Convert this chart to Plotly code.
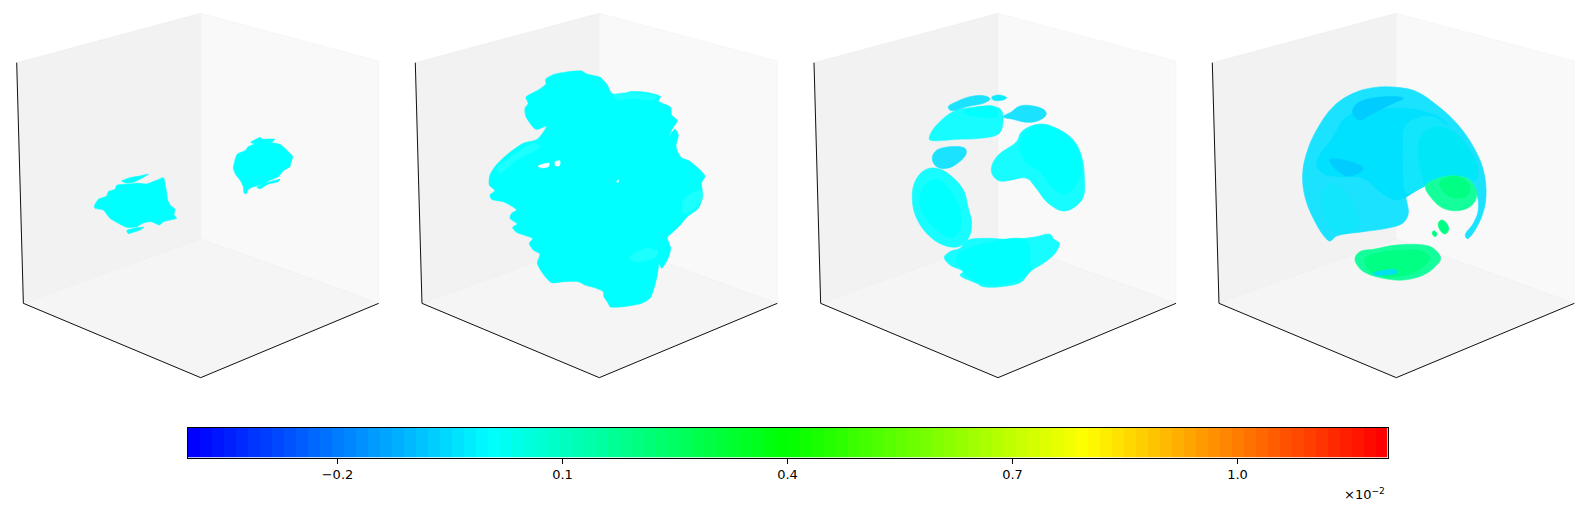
import numpy as np
import plotly.graph_objects as go

# Panel geometry readings (crop units: 3 per pixel; x relative to each cube's centre)
panel_centres_px = [200.7, 599.3, 998.0, 1396.3]
crop_centres = [602, 598, 594, 619]
half_w = 570
crop_h = 1170

left_wall = [(-552, 188), (0, 40), (0, 717), (-532, 910)]
right_wall = [(0, 40), (534, 183), (534, 910), (0, 717)]
floor = [(-532, 910), (0, 717), (534, 910), (0, 1133)]
z_axis = [(-552, 188), (-532, 910)]
base_axes = [(-532, 910), (0, 1133), (534, 910)]

C = "#00ffff"; C1 = "#16fcff"; C2 = "#1cffff"; S1 = "#1ae2ff"; S2 = "#00e0ff"; S3 = "#00ccff"
T1 = "#00e8f8"; T2 = "#12e6fc"; G1 = "#14ff9c"; G2 = "#00ff82"

p1 = [
 (C, [(283,618),(295,598),(320,588),(325,575),(345,568),(350,556),(385,552),(415,550),(440,552),(470,541),(490,533),(497,560),(503,600),(510,615),(525,628),(522,645),(530,655),(510,660),(490,665),(478,675),(455,665),(430,668),(410,680),(380,682),(355,670),(330,655),(310,630),(285,625)]),
 (C, [(365,543),(390,533),(420,528),(445,522),(430,532),(405,545),(380,549)]),
 (C, [(380,692),(405,684),(432,682),(420,690),(395,698),(385,701)]),
 (C, [(700,505),(705,480),(712,462),(735,452),(745,440),(765,432),(790,428),(815,428),(840,433),(860,450),(878,470),(872,490),(870,500),(850,512),(835,530),(810,540),(790,552),(760,560),(745,568),(738,582),(732,578),(730,560),(720,540),(708,525)]),
 (C, [(752,427),(768,418),(780,412),(785,417),(825,418),(815,426),(785,430),(765,432)]),
 (C, [(770,562),(800,548),(840,538),(835,545),(805,552),(780,566)]),
]
p2 = [
 (C, [(437,238),(460,224),(500,216),(545,213),(560,222),(600,232),(622,255),(635,280),(660,285),(690,275),(745,278),(782,290),(775,303),(795,313),(812,322),(815,345),(832,362),(818,385),(808,408),(825,388),(835,405),(828,440),(843,472),(868,483),(895,505),(915,528),(905,548),(908,590),(895,625),(862,650),(838,678),(815,700),(802,712),(812,745),(803,778),(785,805),(778,790),(772,825),(762,865),(750,895),(725,910),(670,920),(630,920),(625,910),(612,890),(610,875),(580,862),(555,855),(535,845),(490,845),(455,848),(432,825),(412,790),(420,762),(400,750),(388,730),(398,716),(350,697),(338,682),(352,672),(330,655),(335,640),(350,630),(312,606),(275,598),(270,585),(285,572),(268,555),(270,525),(285,500),(320,465),(370,430),(412,418),(440,378),(408,388),(378,350),(375,325),(385,310),(378,292),(415,270),(438,252)]),
 (C2, [(640,285),(700,278),(770,290),(760,300),(700,295),(650,300)]),
 (C2, [(290,505),(340,465),(400,430),(420,440),(350,480),(300,520)]),
 (C2, [(690,770),(740,745),(775,755),(760,775),(700,785)]),
 (C2, [(850,600),(900,570),(905,600),(880,630),(850,640)]),
 ("#ffffff", [(415,498),(430,492),(448,490),(445,500),(420,503)]),
 ("#ffffff", [(466,485),(480,483),(478,497),(466,497)]),
 ("#ffffff", [(650,545),(656,540),(654,548)]),
]
p3 = [
 (S1, [(445,320),(470,305),(510,290),(555,288),(570,297),(550,310),(500,320),(465,332),(450,330)]),
 ("#10ecff", [(575,292),(595,285),(620,293),(605,301),(580,300)]),
 (S1, [(610,350),(635,335),(660,318),(700,318),(735,332),(738,345),(715,362),(680,367),(640,358)]),
 (C1, [(388,418),(395,395),(425,360),(460,335),(520,322),(585,320),(605,332),(607,380),(595,402),(540,415),(470,418),(400,422)]),
 (C, [(490,335),(530,322),(585,322),(590,350),(540,350),(505,345)]),
 (S1, [(397,478),(405,455),(430,443),(495,445),(498,462),(475,488),(440,505),(410,500)]),
 (C1, [(337,600),(345,545),(375,510),(410,505),(450,525),(490,570),(505,625),(515,670),(505,715),(475,740),(430,735),(385,705),(350,655)]),
 (C, [(360,590),(380,550),(415,540),(450,570),(480,630),(478,690),(455,712),(400,680),(370,640)]),
 (C1, [(575,500),(595,465),(650,425),(665,395),(720,372),(770,385),(820,420),(845,470),(853,530),(850,590),(825,620),(790,633),(745,610),(705,560),(680,535),(600,543),(578,525)]),
 (C, [(660,425),(690,385),(720,375),(770,388),(815,420),(840,470),(840,530),(800,580),(760,565),(715,510),(680,490),(660,450)]),
 (C1, [(433,772),(450,755),(480,745),(500,722),(560,715),(620,718),(700,712),(750,703),(762,718),(778,730),(765,760),(730,790),(690,815),(665,845),(620,858),(550,860),(530,850),(480,825),(490,815),(450,795)]),
 (C, [(470,770),(560,730),(680,722),(690,780),(690,815),(620,850),(550,850),(490,815)]),
]
p4 = [
 (S1, [(338,525),(350,460),(380,390),(430,320),(490,280),(550,263),(620,262),(680,275),(740,315),(800,370),(850,440),(880,510),(888,590),(875,650),(845,705),(832,716),(826,705),(850,670),(865,630),(858,575),(830,540),(790,530),(740,540),(690,565),(650,585),(648,590),(655,640),(640,668),(590,685),(520,695),(440,708),(420,723),(405,712),(370,655),(345,590)]),
 (S2, [(380,490),(430,410),(470,350),(560,330),(650,325),(720,340),(760,360),(790,400),(860,490),(855,540),(830,530),(780,528),(700,560),(640,595),(620,600),(570,575),(530,540),(500,530),(450,530),(400,520)]),
 (T2, [(393,600),(405,565),(430,553),(465,575),(490,610),(505,650),(495,688),(440,698),(405,650)]),
 (T2, [(640,450),(645,380),(680,355),(730,350),(790,395),(850,480),(862,530),(830,530),(780,528),(700,560),(650,580),(640,520)]),
 (T1, [(685,450),(695,405),(730,382),(790,395),(840,450),(862,505),(858,540),(830,530),(770,530),(710,555),(695,520)]),
 (S3, [(490,325),(510,305),(590,290),(640,295),(610,310),(540,345),(510,360),(490,345)]),
 (S3, [(420,480),(450,478),(520,505),(480,528),(440,510)]),
 (G1, [(707,558),(745,535),(790,527),(830,535),(855,560),(860,590),(840,620),(800,632),(760,625),(725,595)]),
 (G2, [(750,545),(800,530),(835,550),(838,580),(800,595),(760,575)]),
 (G2, [(745,670),(755,660),(770,670),(776,690),(765,702),(750,690)]),
 (G2, [(727,697),(733,692),(741,702),(736,710),(728,704)]),
 (G1, [(495,775),(510,755),(550,748),(620,735),(700,735),(730,745),(752,775),(735,800),(700,825),(640,840),(580,835),(530,820),(505,800)]),
 (G2, [(525,775),(560,760),(640,750),(700,755),(720,775),(700,800),(650,825),(560,825),(530,800)]),
 ("#00e0f0", [(550,820),(575,812),(620,810),(622,818),(580,826),(555,826)]),
]
panels = [p1, p2, p3, p4]
smoothing = [0.5, 0.7, 1.1, 1.1]

# Colour bar
cbar_min, cbar_max = -0.4, 1.2
cbar_edges = np.linspace(cbar_min, cbar_max, 101)
cbar_levels = np.linspace(cbar_min, cbar_max, 100)
cbar_ticks = [-0.2, 0.1, 0.4, 0.7, 1.0]
cbar_ticktext = ["\u22120.2", "0.1", "0.4", "0.7", "1.0"]
cbar_scale = [[0, "#0000ff"], [0.25, "#00ffff"], [0.5, "#00ff00"], [0.75, "#ffff00"], [1, "#ff0000"]]

W, H = 1587, 505
fig = go.Figure()
layout = dict(width=W, height=H, autosize=False, margin=dict(l=0, r=0, t=0, b=0),
              paper_bgcolor="white", plot_bgcolor="rgba(0,0,0,0)", showlegend=False)
hidden = dict(showgrid=False, zeroline=False, showticklabels=False, ticks="", showline=False, fixedrange=True)


def poly(points, color, xa, ya, line_color=None, smooth=0):
    xs = [p[0] for p in points] + [points[0][0]]
    ys = [p[1] for p in points] + [points[0][1]]
    line = dict(color=line_color or color, width=0.6)
    if smooth:
        line.update(shape="spline", smoothing=smooth)
    fig.add_trace(go.Scatter(x=xs, y=ys, mode="lines", fill="toself", fillcolor=color, hoverinfo="skip",
                             line=line, xaxis=xa, yaxis=ya))


def path(points, color, width, xa, ya):
    fig.add_trace(go.Scatter(x=[p[0] for p in points], y=[p[1] for p in points], mode="lines", hoverinfo="skip",
                             line=dict(color=color, width=width), xaxis=xa, yaxis=ya))


for i, (cx_px, cc, blobs, sm) in enumerate(zip(panel_centres_px, crop_centres, panels, smoothing)):
    n = i + 1
    xa, ya = f"x{n}", f"y{n}"
    layout[f"xaxis{n}"] = dict(hidden, domain=[(cx_px - half_w / 3) / W, (cx_px + half_w / 3) / W],
                               range=[cc - half_w, cc + half_w], anchor=ya)
    layout[f"yaxis{n}"] = dict(hidden, domain=[1 - (crop_h / 3) / H, 1], range=[crop_h, 0], anchor=xa)
    shift = lambda pts: [(x + cc, y) for x, y in pts]
    poly(shift(left_wall), "#f2f2f2", xa, ya, "#ededed")
    poly(shift(right_wall), "#f9f9f9", xa, ya, "#f4f4f4")
    poly(shift(floor), "#f5f5f5", xa, ya, "#f0f0f0")
    path(shift(z_axis), "#111111", 1.0, xa, ya)
    path(shift(base_axes), "#111111", 1.0, xa, ya)
    for color, pts in blobs:
        poly(pts, color, xa, ya, smooth=sm)

fig.add_trace(go.Heatmap(x=cbar_edges, y=[-0.5, 0.5], z=[cbar_levels], zmin=cbar_min, zmax=cbar_max,
                         colorscale=cbar_scale, showscale=False, hoverinfo="skip", xaxis="x5", yaxis="y5"))
layout["xaxis5"] = dict(domain=[187.5 / W, 1387.5 / W], range=[cbar_min, cbar_max], anchor="y5", tickmode="array",
                        tickvals=cbar_ticks, ticktext=cbar_ticktext, ticks="outside", ticklen=5, tickwidth=1,
                        tickcolor="black", showgrid=False, zeroline=False, fixedrange=True, mirror=True,
                        showline=True, linecolor="black", linewidth=1,
                        tickfont=dict(family="DejaVu Sans", size=13, color="#000000"))
layout["yaxis5"] = dict(hidden, domain=[1 - 457.5 / H, 1 - 427.5 / H], range=[-0.5, 0.5], anchor="x5", mirror=True,
                        showline=True, linecolor="black", linewidth=1)
layout["annotations"] = [dict(xref="paper", yref="paper", x=1386.5 / W, y=1 - 494 / H, xanchor="right", yanchor="middle",
                              text="\u00d710<sup>\u22122</sup>", showarrow=False,
                              font=dict(family="DejaVu Sans", size=13, color="#000000"))]
fig.update_layout(**layout)
fig.write_html("out.html", config=dict(displayModeBar=False, responsive=False),
               post_script="document.body.style.margin='0';document.documentElement.style.overflow='hidden';")
